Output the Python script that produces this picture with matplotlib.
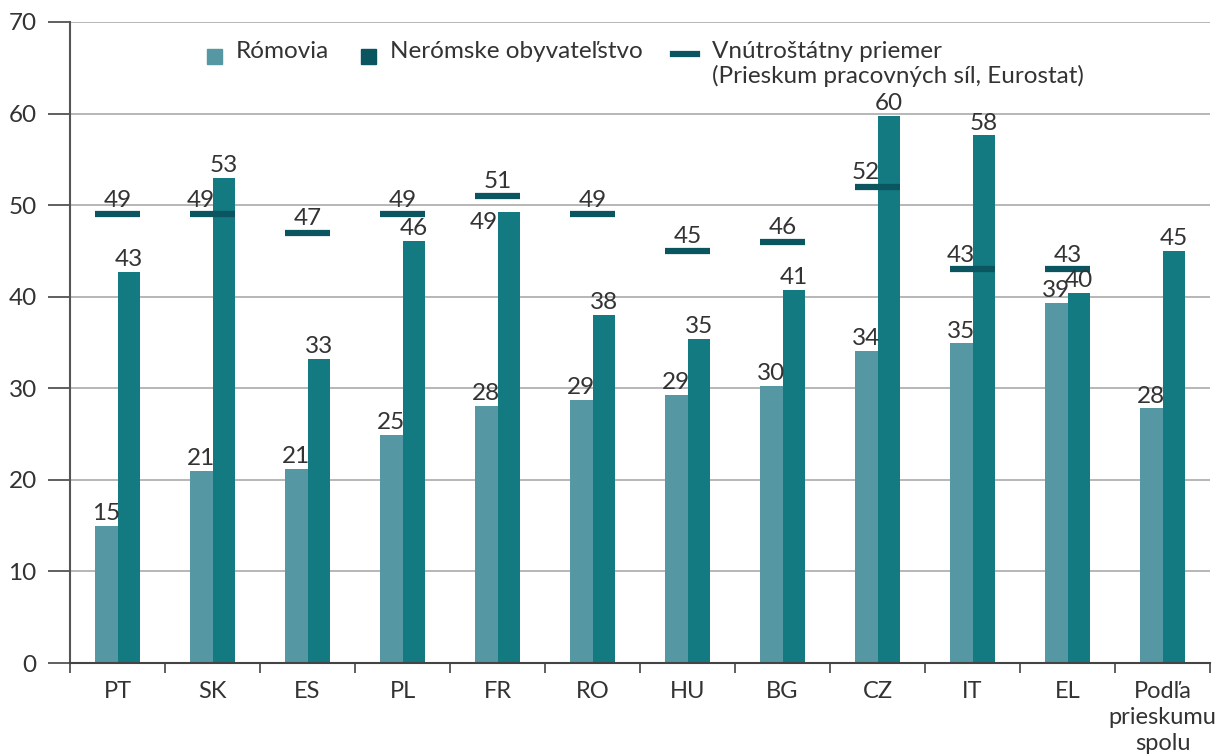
import numpy as np
import matplotlib.pyplot as plt
from matplotlib.patches import Rectangle
from matplotlib.lines import Line2D

plt.rcParams['font.family'] = ['Lato', 'DejaVu Sans']

# Data
countries = ['PT', 'SK', 'ES', 'PL', 'FR', 'RO', 'HU', 'BG', 'CZ', 'IT', 'EL',
             'Podľa\nprieskumu\nspolu']
roma = [15.0, 21.0, 21.2, 24.9, 28.1, 28.7, 29.3, 30.3, 34.1, 34.9, 39.3, 27.8]
non_roma = [42.7, 53.0, 33.2, 46.1, 49.2, 38.0, 35.4, 40.7, 59.7, 57.6, 40.4, 45.0]
national_avg = [49, 49, 47, 49, 51, 49, 45, 46, 52, 43, 43, np.nan]

roma_labels = ['15', '21', '21', '25', '28', '29', '29', '30', '34', '35', '39', '28']
non_roma_labels = ['43', '53', '33', '46', '49', '38', '35', '41', '60', '58', '40', '45']
avg_labels = ['49', '49', '47', '49', '51', '49', '45', '46', '52', '43', '43', '']

c_roma = '#5597a2'
c_non = '#127a80'
c_avg = '#0a5560'
c_text = '#333333'
fs = 17.5

W, H = 1218, 756
fig = plt.figure(figsize=(W / 100, H / 100), dpi=100)
ax = fig.add_axes([0.0575, 0.123, 0.936, 0.848])


def px(xp, yp):
    # pixel position (from top-left) -> figure fraction
    return xp / W, 1 - yp / H


x = np.arange(len(countries))
w = 0.24

ax.bar(x - w / 2, roma, width=w, color=c_roma, zorder=2)
ax.bar(x + w / 2, non_roma, width=w, color=c_non, zorder=2)
ax.hlines(national_avg, x - w, x + w, color=c_avg, linewidth=4.5, zorder=3)

for i in range(len(countries)):
    ax.text(x[i] - w / 2, roma[i] + 0.2, roma_labels[i], ha='center', va='bottom',
            fontsize=fs, color=c_text)
    if countries[i] == 'FR':
        # label sits beside the bar so it does not hit the average marker
        ax.text(x[i], non_roma[i] + 0.1, non_roma_labels[i], ha='right', va='top',
                fontsize=fs, color=c_text)
    else:
        ax.text(x[i] + w / 2, non_roma[i] + 0.2, non_roma_labels[i], ha='center',
                va='bottom', fontsize=fs, color=c_text)
    if avg_labels[i]:
        ax_x = x[i] - w / 2 if non_roma[i] > national_avg[i] else x[i]
        ax.text(ax_x, national_avg[i] + 0.4, avg_labels[i], ha='center', va='bottom',
                fontsize=fs, color=c_text)

ax.set_xlim(-0.5, len(countries) - 0.5)
ax.set_ylim(0, 70)
ax.set_yticks(range(0, 71, 10))
ax.yaxis.grid(True, color='#aaaaaa', linewidth=1.2, zorder=0)
ax.set_axisbelow(True)

ax.set_xticks(np.arange(-0.5, len(countries), 1))
ax.set_xticklabels([])
ax.set_xticks(x, minor=True)
ax.set_xticklabels(countries, minor=True, fontsize=17, color=c_text, linespacing=1.3)
ax.tick_params(axis='x', which='major', length=7, width=1.2, color='#444444')
ax.tick_params(axis='x', which='minor', length=0, pad=13)
ax.tick_params(axis='y', length=16, width=1.2, color='#444444', labelsize=fs,
               labelcolor=c_text, pad=8)

for s in ['top', 'right']:
    ax.spines[s].set_visible(False)
ax.spines['left'].set_color('#555555')
ax.spines['left'].set_linewidth(1.5)
ax.spines['bottom'].set_color('#444444')
ax.spines['bottom'].set_linewidth(1.5)

# legend drawn by hand so the two-line entry lines up with its first line
sq = 15
for (x0, col) in [(207, c_roma), (361, c_avg)]:
    fx, fy = px(x0, 64)
    fig.patches.append(Rectangle((fx, fy), sq / W, sq / H, color=col,
                                 transform=fig.transFigure, figure=fig))
lx0, ly = px(673, 54)
lx1, _ = px(697, 54)
fig.lines.append(Line2D([lx0, lx1], [ly, ly], color=c_avg, linewidth=4.5,
                        transform=fig.transFigure, figure=fig))
for xt, txt in [(236, 'Rómovia'), (390, 'Nerómske obyvateľstvo'),
                (712, 'Vnútroštátny priemer\n(Prieskum pracovných síl, Eurostat)')]:
    fx, fy = px(xt, 41)
    fig.text(fx, fy, txt, ha='left', va='top', fontsize=fs, color=c_text,
             linespacing=1.15)

fig.savefig('out.png', dpi=100)
